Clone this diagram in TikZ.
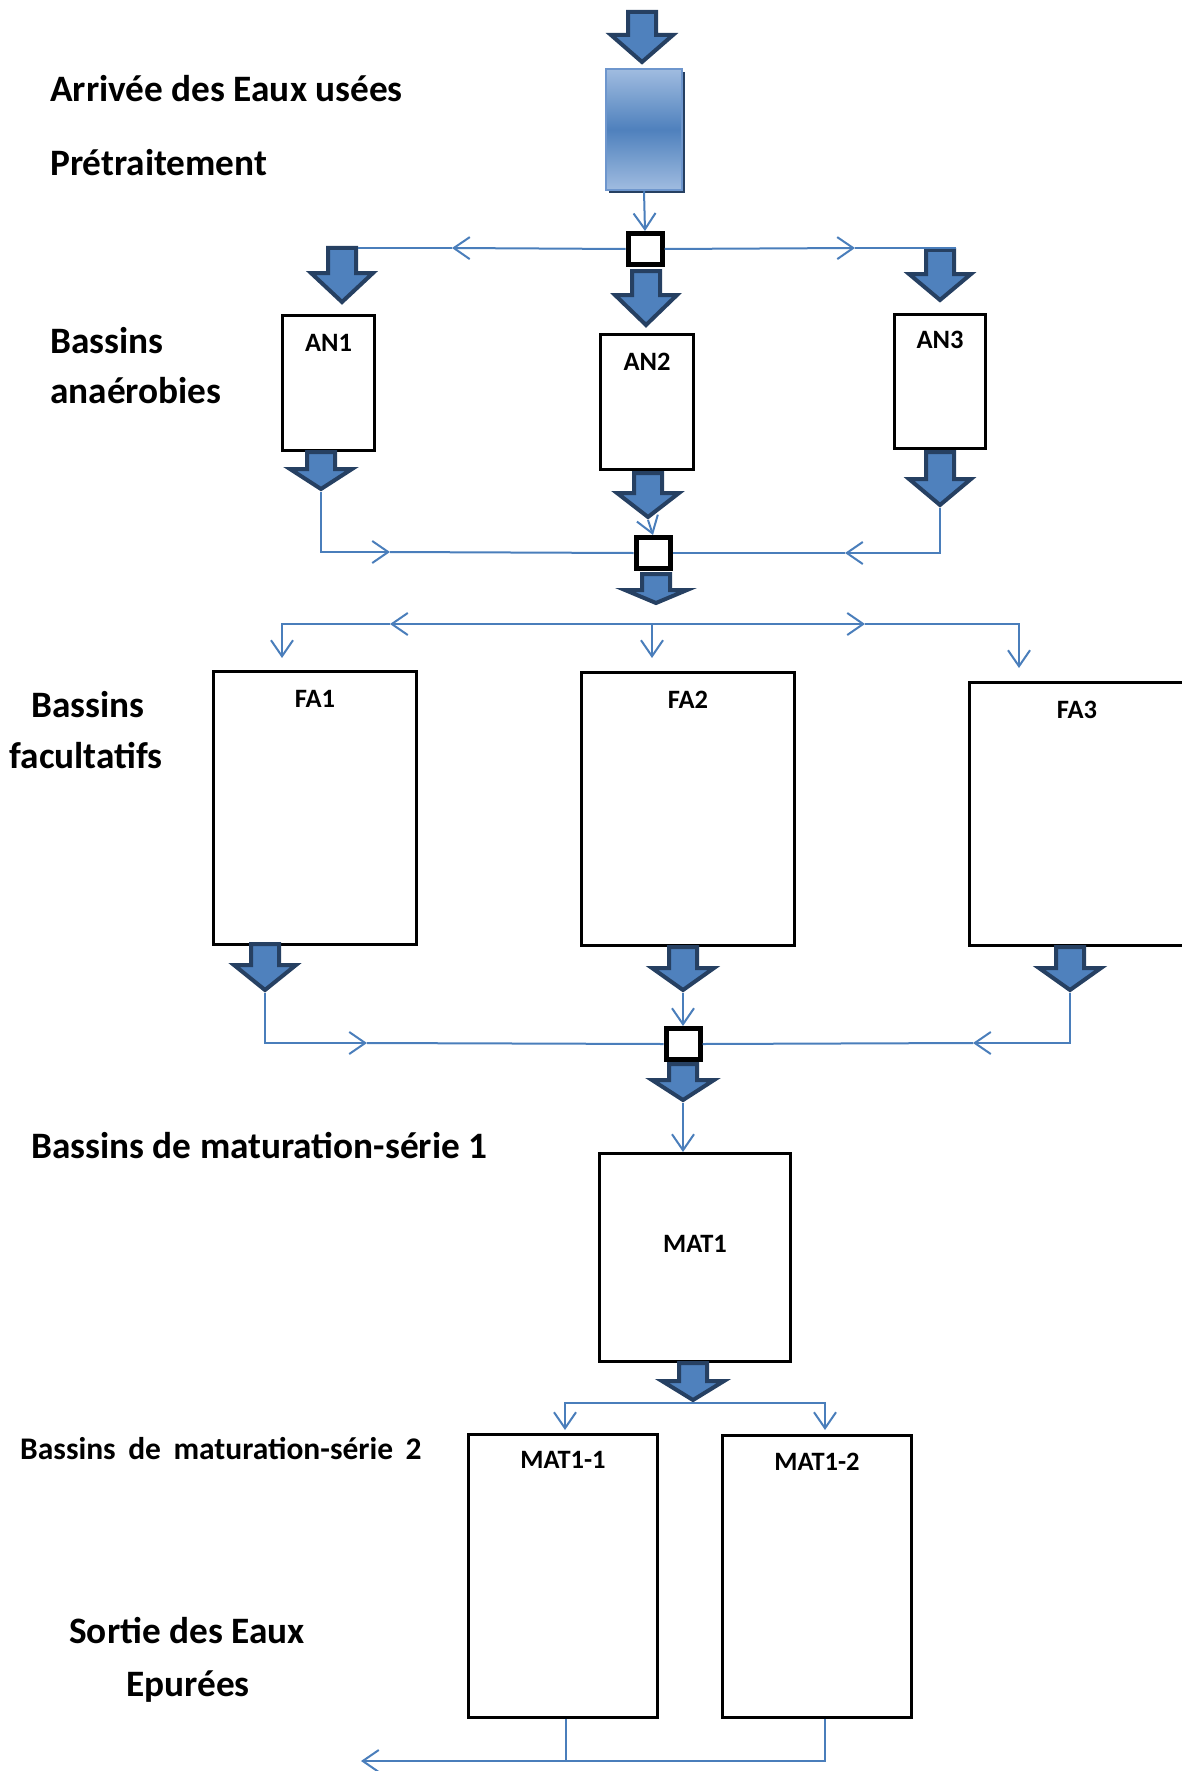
\documentclass[tikz,border=0pt]{standalone}
\usepackage{fontspec}
\setmainfont{Carlito}
\usetikzlibrary{arrows.meta,shadows}
\definecolor{flowfill}{RGB}{79,129,189}
\definecolor{flowedge}{RGB}{38,64,98}
\definecolor{pipeblue}{RGB}{74,126,187}
\definecolor{pretpale}{RGB}{160,188,224}
\definecolor{pretedge}{RGB}{110,150,205}

% block arrow: name, x, top, start of head, tip
\newcommand{\flowarrow}[5]{%
  \draw[bigflow] (#2-14,#3+2) -- (#2+14,#3+2) -- (#2+14,#4) -- (#2+31,#4)
    -- (#2,#5-3) -- (#2-31,#4) -- (#2-14,#4) -- cycle;
  \coordinate (#1) at (#2,#5);}

\begin{document}
\begin{tikzpicture}[x=1pt,y=-1pt,
    basin/.style={draw, line width=3pt, fill=white, inner sep=0pt},
    hub/.style={draw, line width=5pt, fill=white, inner sep=0pt, minimum width=34pt, minimum height=31pt},
    tag/.style={font=\fontsize{26.5}{30}\selectfont\bfseries, inner sep=0pt},
    caption/.style={font=\fontsize{37.3}{44}\selectfont\bfseries, inner sep=0pt},
    smallcaption/.style={font=\fontsize{31.5}{38}\selectfont\bfseries, inner sep=0pt},
    bigflow/.style={draw=flowedge, fill=flowfill, line width=4pt, line join=miter},
    pipe/.style={draw=pipeblue, line width=2pt},
    barb/.style={-{Straight Barb[length=16pt,width=22pt]}}]
    \useasboundingbox (0,0) rectangle (1181,1771);

    % texts on the left
    \node[caption, anchor=base west] (arrivee) at (50,102) {Arrivée des Eaux usées};
    \node[caption, anchor=base west] (pretlbl) at (50,176) {Prétraitement};
    \node[caption, anchor=base west] (anlbl1) at (50,353) {Bassins};
    \node[caption, anchor=base west] (anlbl2) at (50,403) {anaérobies};
    \node[caption, anchor=base] (falbl1) at (88,717) {Bassins};
    \node[caption, anchor=base] (falbl2) at (86,768) {facultatifs};
    \node[caption, anchor=base west] (mat1lbl) at (31,1158) {Bassins de maturation-série 1};
    \node[smallcaption, anchor=base west] (mat2lbl) at (20,1459) {\spaceskip=12.5pt\relax Bassins de maturation-série 2};
    \node[caption, anchor=base] (sortie1) at (187,1643) {Sortie des Eaux};
    \node[caption, anchor=base] (sortie2) at (188,1696) {Epurées};

    % pretreatment and hubs
    \node[draw=pretedge, line width=2.5pt, top color=pretpale, bottom color=pretpale, middle color=flowfill,
          drop shadow={shadow xshift=3pt, shadow yshift=-3pt, fill=flowedge, opacity=1},
          minimum width=76pt, minimum height=121pt, inner sep=0pt] (pret) at (644,129.5) {};
    \node[hub] (sq1) at (645,249) {};
    \node[hub] (sq2) at (653,553) {};
    \node[hub] (sq3) at (683,1044) {};

    % basins
    \node[basin, minimum width=92pt, minimum height=135pt, label={[tag,anchor=base,yshift=-37pt]north:AN1}] (an1) at (328.5,383) {};
    \node[basin, minimum width=93pt, minimum height=135pt, label={[tag,anchor=base,yshift=-37pt]north:AN2}] (an2) at (647,402) {};
    \node[basin, minimum width=91pt, minimum height=134pt, label={[tag,anchor=base,yshift=-35pt]north:AN3}] (an3) at (940,381.5) {};
    \node[basin, minimum width=203pt, minimum height=273pt, label={[tag,anchor=base,yshift=-37pt]north:FA1}] (fa1) at (315,808) {};
    \node[basin, minimum width=213pt, minimum height=273pt, label={[tag,anchor=base,yshift=-37pt]north:FA2}] (fa2) at (688,809) {};
    \node[basin, minimum width=215pt, minimum height=263pt, label={[tag,anchor=base,yshift=-37pt]north:FA3}] (fa3) at (1077,814) {};
    \node[basin, minimum width=191pt, minimum height=208pt, label={[tag,anchor=base,yshift=-100pt]north:MAT1}] (mat1) at (695,1257.5) {};
    \node[basin, minimum width=189pt, minimum height=283pt, label={[tag,anchor=base,yshift=-35pt]north:MAT1-1}] (mat11) at (563,1576) {};
    \node[basin, minimum width=189pt, minimum height=282pt, label={[tag,anchor=base,yshift=-36pt]north:MAT1-2}] (mat12) at (817,1576.5) {};

    % free ends of the pipes
    \coordinate (an1in) at (358,248);
    \coordinate (an3in) at (956,248);
    \coordinate (lm1) at (452,248);
    \coordinate (rm1) at (855,248);
    \coordinate (lm2) at (390,552);
    \coordinate (rm2) at (845,553);
    \coordinate (split) at (652,624);
    \coordinate (lm3) at (390,624);
    \coordinate (rm3) at (865,624);
    \coordinate (fa1in) at (282,658);
    \coordinate (fa2in) at (652,658);
    \coordinate (fa3in) at (1019,668);
    \coordinate (lm4) at (367,1043);
    \coordinate (rm4) at (973,1043);
    \coordinate (m11in) at (565,1430);
    \coordinate (m12in) at (825,1430);
    \coordinate (j1) at (566,1761);
    \coordinate (j2) at (825,1761);
    \coordinate (outlet) at (361,1761);

    % block arrows
    \flowarrow{a0}{642}{10}{35}{65}
    \flowarrow{a1}{342}{246}{273}{305}
    \flowarrow{a2}{646}{269}{295}{328}
    \flowarrow{a3}{940}{248}{274}{303}
    \flowarrow{b1}{321}{450}{469}{492}
    \flowarrow{b2}{648}{471}{493}{520}
    \flowarrow{b3}{940}{450}{479}{508}
    \flowarrow{c0}{656}{572}{590}{606}
    \flowarrow{d1}{265}{942}{965}{993}
    \flowarrow{d2}{683}{945}{968}{993}
    \flowarrow{d3}{1070}{945}{968}{993}
    \flowarrow{e0}{683}{1062}{1080}{1103}
    \flowarrow{f0}{693}{1361}{1381}{1403}

    % pipes
    \draw[pipe, barb] (pret.south) -- (sq1.north);
    \draw[pipe, barb] (sq1.west) -- (lm1);
    \draw[pipe] (lm1) -- (an1in);
    \draw[pipe, barb] (sq1.east) -- (rm1);
    \draw[pipe] (rm1) -- (an3in);
    \draw[pipe, barb] (b1) |- (lm2);
    \draw[pipe] (lm2) -- (sq2.west);
    \draw[pipe, barb] (b2) -- (sq2.north);
    \draw[pipe, barb] (b3) |- (rm2);
    \draw[pipe] (rm2) -- (sq2.east);
    \draw[pipe, barb] (split) -- (lm3);
    \draw[pipe, barb] (lm3) -| (fa1in);
    \draw[pipe, barb] (split) -- (fa2in);
    \draw[pipe, barb] (split) -- (rm3);
    \draw[pipe, barb] (rm3) -| (fa3in);
    \draw[pipe, barb] (d1) |- (lm4);
    \draw[pipe] (lm4) -- (sq3.west);
    \draw[pipe, barb] (d2) -- (sq3.north);
    \draw[pipe, barb] (d3) |- (rm4);
    \draw[pipe] (rm4) -- (sq3.east);
    \draw[pipe, barb] (e0) -- (e0 |- mat1.north);
    \draw[pipe, barb] (f0) -| (m11in);
    \draw[pipe, barb] (f0) -| (m12in);
    \draw[pipe] (j2 |- mat12.south) -- (j2) -- (j1);
    \draw[pipe] (j1 |- mat11.south) -- (j1);
    \draw[pipe, barb] (j1) -- (outlet);
\end{tikzpicture}
\end{document}
